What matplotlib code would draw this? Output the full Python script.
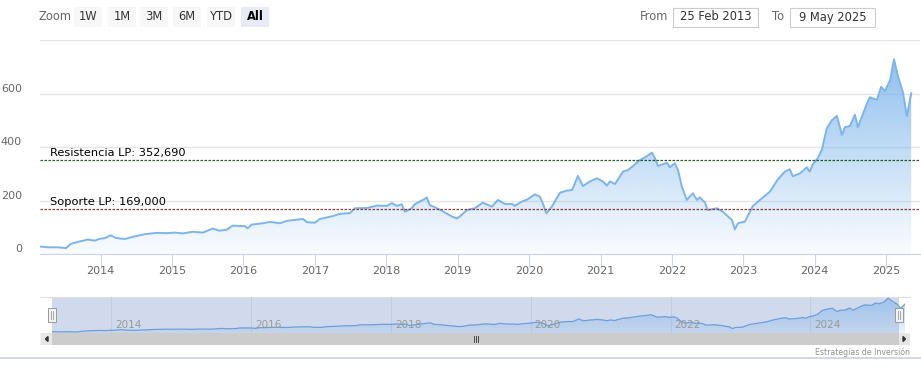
import numpy as np
import pandas as pd
import matplotlib
matplotlib.use('Agg')
import matplotlib.pyplot as plt
import matplotlib.dates as mdates
from matplotlib.patches import Rectangle, Polygon
from matplotlib.transforms import ScaledTranslation, blended_transform_factory

# price series
dates = ['2013-02-25', '2013-04-07', '2013-05-28', '2013-07-08', '2013-08-02', '2013-09-22',
         '2013-10-28', '2013-12-02', '2013-12-28', '2014-01-22', '2014-02-22', '2014-03-19',
         '2014-05-05', '2014-06-25', '2014-08-15', '2014-10-16', '2014-12-06', '2015-01-15',
         '2015-02-25', '2015-04-17', '2015-06-08', '2015-07-28', '2015-09-02', '2015-10-08',
         '2015-11-08', '2016-01-08', '2016-01-23', '2016-02-13', '2016-04-10', '2016-05-16',
         '2016-07-06', '2016-08-11', '2016-11-01', '2016-11-21', '2017-01-01', '2017-01-27',
         '2017-04-04', '2017-05-09', '2017-06-29', '2017-07-25', '2017-09-24', '2017-11-14',
         '2018-01-04', '2018-01-30', '2018-02-24', '2018-03-21', '2018-04-06', '2018-05-11',
         '2018-05-27', '2018-07-17', '2018-07-27', '2018-08-12', '2018-08-27', '2018-10-02',
         '2018-12-03', '2018-12-28', '2019-01-12', '2019-02-17', '2019-03-30', '2019-05-10',
         '2019-06-25', '2019-07-26', '2019-08-31', '2019-10-06', '2019-10-21', '2019-11-26',
         '2019-12-27', '2020-01-31', '2020-02-26', '2020-03-12', '2020-03-30', '2020-04-27',
         '2020-06-07', '2020-07-13', '2020-08-08', '2020-08-23', '2020-09-07', '2020-10-03',
         '2020-11-07', '2020-12-13', '2021-01-13', '2021-02-03', '2021-02-18', '2021-03-16',
         '2021-04-26', '2021-05-21', '2021-06-16', '2021-07-21', '2021-08-16', '2021-09-21',
         '2021-10-06', '2021-10-22', '2021-11-16', '2021-12-07', '2021-12-22', '2022-01-16',
         '2022-02-01', '2022-02-21', '2022-03-18', '2022-04-18', '2022-05-09', '2022-05-24',
         '2022-06-19', '2022-07-04', '2022-08-19', '2022-09-19', '2022-11-04', '2022-11-19',
         '2022-12-05', '2023-01-09', '2023-02-19', '2023-03-27', '2023-05-17', '2023-06-27',
         '2023-08-02', '2023-08-27', '2023-09-11', '2023-10-17', '2023-11-22', '2023-12-07',
         '2023-12-23', '2024-01-17', '2024-02-07', '2024-03-03', '2024-03-29', '2024-04-24',
         '2024-05-20', '2024-06-04', '2024-06-30', '2024-07-25', '2024-08-09', '2024-09-25',
         '2024-10-10', '2024-11-15', '2024-12-06', '2024-12-26', '2025-01-21', '2025-02-10',
         '2025-03-03', '2025-03-28', '2025-04-17', '2025-05-09']
prices = [28, 25, 25, 22, 38, 48,
          54, 50, 57, 59, 70, 60,
          56, 66, 74, 79, 78, 80,
          77, 83, 80, 95, 87, 91,
          106, 104, 96, 110, 115, 120,
          115, 124, 131, 119, 117, 131,
          142, 150, 153, 171, 172, 181,
          180, 190, 180, 186, 158, 171,
          186, 206, 212, 182, 178, 166,
          140, 133, 140, 164, 171, 192,
          177, 202, 187, 187, 180, 196,
          205, 223, 214, 189, 152, 177,
          229, 237, 239, 264, 292, 254,
          271, 283, 271, 256, 271, 262,
          308, 314, 329, 351, 361, 379,
          358, 329, 336, 341, 324, 339,
          314, 252, 202, 227, 202, 212,
          192, 164, 171, 158, 127, 92,
          115, 121, 179, 202, 233, 279,
          308, 317, 291, 301, 324, 308,
          336, 358, 389, 470, 500, 516,
          445, 474, 479, 521, 474, 563,
          586, 576, 625, 610, 650, 728,
          663, 604, 516, 601]

resistance = 352.69
support = 169.0
resistance_label = 'Resistencia LP: 352,690'
support_label = 'Soporte LP: 169,000'
y_ticks = [0, 200, 400, 600, 800]
y_labels = ['0', '200', '400', '600', '']
zoom_buttons = ['1W', '1M', '3M', '6M', 'YTD', 'All']
date_from = '25 Feb 2013'
date_to = '9 May 2025'
nav_years = [2014, 2016, 2018, 2020, 2022, 2024]

d = pd.to_datetime(dates)
dnum = mdates.date2num(d)
p = np.array(prices, dtype=float)

W, H = 921, 370
fig = plt.figure(figsize=(W / 100, H / 100), dpi=100)
fig.patch.set_facecolor('white')


def px_axes(x0, y0, x1, y1, **kw):
    return fig.add_axes([x0 / W, 1 - y1 / H, (x1 - x0) / W, (y1 - y0) / H], **kw)


def overlay(z):
    o = fig.add_axes([0, 0, 1, 1], zorder=z)
    o.set_xlim(0, W)
    o.set_ylim(H, 0)
    o.axis('off')
    o.patch.set_alpha(0)
    return o


LINE = '#7cb5ec'
GRID = '#e6e6e6'


def gradient_fill(ax, top_alpha, bottom_alpha, vmax):
    poly = ax.fill_between(d, p, 0, color='none', lw=0)
    n = 256
    grad = np.zeros((n, 1, 4))
    grad[:, 0, 0] = 124 / 255
    grad[:, 0, 1] = 181 / 255
    grad[:, 0, 2] = 236 / 255
    grad[:, 0, 3] = np.linspace(bottom_alpha, top_alpha, n)
    im = ax.imshow(grad, extent=[dnum[0], dnum[-1], 0, vmax], aspect='auto',
                   origin='lower', zorder=1, interpolation='bilinear')
    im.set_clip_path(poly.get_paths()[0], transform=ax.transData)


# ---- background widgets (toolbar, navigator mask, scrollbar)
bg = overlay(-1)
bg.text(55, 17, 'Zoom', fontsize=8.3, color='#666666', ha='center', va='center')
btn_x = [74, 108, 140, 173, 207, 241]
for bx, lab in zip(btn_x, zoom_buttons):
    sel = lab == 'All'
    bg.add_patch(Rectangle((bx, 7), 28, 20, facecolor='#e6ebf5' if sel else '#f7f7f7',
                           edgecolor='none'))
    bg.text(bx + 14, 17, lab, fontsize=8.3, color='#000000' if sel else '#333333',
            fontweight='bold' if sel else 'normal', ha='center', va='center')

bg.text(654, 17, 'From', fontsize=8.3, color='#666666', ha='center', va='center')
bg.add_patch(Rectangle((673, 8), 85, 19, facecolor='white', edgecolor='#cccccc', lw=0.8))
bg.text(715.5, 17, date_from, fontsize=8.3, color='#333333', ha='center', va='center')
bg.text(778, 17, 'To', fontsize=8.3, color='#666666', ha='center', va='center')
bg.add_patch(Rectangle((790, 8), 85, 19, facecolor='white', edgecolor='#cccccc', lw=0.8))
bg.text(832.5, 17, date_to, fontsize=8.3, color='#333333', ha='center', va='center')

bg.plot([40, 910], [297, 297], color='#e0e0e0', lw=0.8)
bg.add_patch(Rectangle((52, 297), 847, 36, facecolor='#d1daed', edgecolor='none'))
bg.add_patch(Rectangle((40, 333), 870, 12, facecolor='#f2f2f2', edgecolor='none'))
bg.add_patch(Rectangle((52, 333), 847, 12, facecolor='#cccccc', edgecolor='none'))
bg.add_patch(Rectangle((41, 333), 11, 12, facecolor='#e6e6e6', edgecolor='none'))
bg.add_patch(Rectangle((899, 333), 11, 12, facecolor='#e6e6e6', edgecolor='none'))
bg.add_patch(Polygon([[48, 336.5], [48, 341.5], [45.5, 339]], color='#333333'))
bg.add_patch(Polygon([[903, 336.5], [903, 341.5], [905.5, 339]], color='#333333'))
for gx in [474, 476, 478]:
    bg.plot([gx, gx], [336, 342], color='#333333', lw=0.6)
bg.text(910, 352, 'Estrategias de Inversión', fontsize=5.6, color='#909090',
        ha='right', va='center')
bg.plot([0, W], [358, 358], color='#ccd0e0', lw=1.2)

# ---- main chart
ax = px_axes(40, 40, 920, 254)
ax.patch.set_alpha(0)
gradient_fill(ax, 0.85, 0.04, max(prices))
ax.plot(d, p, color=LINE, lw=1.4, zorder=3)
ax.set_xlim(pd.Timestamp('2013-02-25'), pd.Timestamp('2025-06-23'))
ax.set_ylim(0, 800)
ax.set_yticks(y_ticks)
ax.set_yticklabels(y_labels)
ax.grid(axis='y', color=GRID, lw=1, zorder=0)
for s in ['top', 'right', 'left']:
    ax.spines[s].set_visible(False)
ax.spines['bottom'].set_color('#ccd6eb')
ax.xaxis.set_major_locator(mdates.YearLocator())
ax.xaxis.set_major_formatter(mdates.DateFormatter('%Y'))
ax.tick_params(axis='x', length=10, color='#ccd6eb', labelsize=8, labelcolor='#666666', pad=-1)
ax.tick_params(axis='y', length=0, labelsize=8, labelcolor='#666666', pad=13)
shift = ScaledTranslation(0, 4 / 72, fig.dpi_scale_trans)
for lab in ax.get_yticklabels():
    lab.set_transform(lab.get_transform() + shift)
ax.set_axisbelow(True)

ax.axhline(resistance, color='#1f5c1f', lw=0.9, ls=(0, (2, 1.2)), zorder=4)
ax.axhline(support, color='#8b3a3a', lw=0.9, ls=(0, (2, 1.2)), zorder=4)
tr = blended_transform_factory(ax.transAxes, ax.transData)
ax.text(0.011, resistance + 8, resistance_label, transform=tr, fontsize=8.2,
        color='#000000', va='bottom', ha='left', zorder=5)
ax.text(0.011, support + 8, support_label, transform=tr, fontsize=8.2,
        color='#000000', va='bottom', ha='left', zorder=5)

# ---- navigator series
nav = px_axes(52, 297, 905, 333)
nav.patch.set_alpha(0)
gradient_fill(nav, 0.6, 0.15, max(prices))
nav.plot(d, p, color='#6e9fd8', lw=0.9, zorder=3)
nav.set_xlim(d[0], d[-1])
nav.set_ylim(0, 750)
nav.axis('off')
ntr = blended_transform_factory(nav.transData, nav.transAxes)
for yr in nav_years:
    t = pd.Timestamp(f'{yr}-01-01')
    nav.plot([t, t], [0, 1], transform=ntr, color='#c4cde0', lw=0.8, zorder=0)
    nav.text(t + pd.Timedelta(days=20), 0.22, str(yr), transform=ntr, fontsize=7.5,
             color='#999999', ha='left', va='center', zorder=4)

# navigator handles on top
fg = overlay(10)
for hx in [48, 895]:
    fg.add_patch(Rectangle((hx, 308), 8, 14, facecolor='#f2f2f2', edgecolor='#999999',
                           lw=0.7))
    fg.plot([hx + 3.2, hx + 3.2], [311, 319], color='#999999', lw=0.6)
    fg.plot([hx + 4.8, hx + 4.8], [311, 319], color='#999999', lw=0.6)

fig.savefig('out.png', dpi=100)
